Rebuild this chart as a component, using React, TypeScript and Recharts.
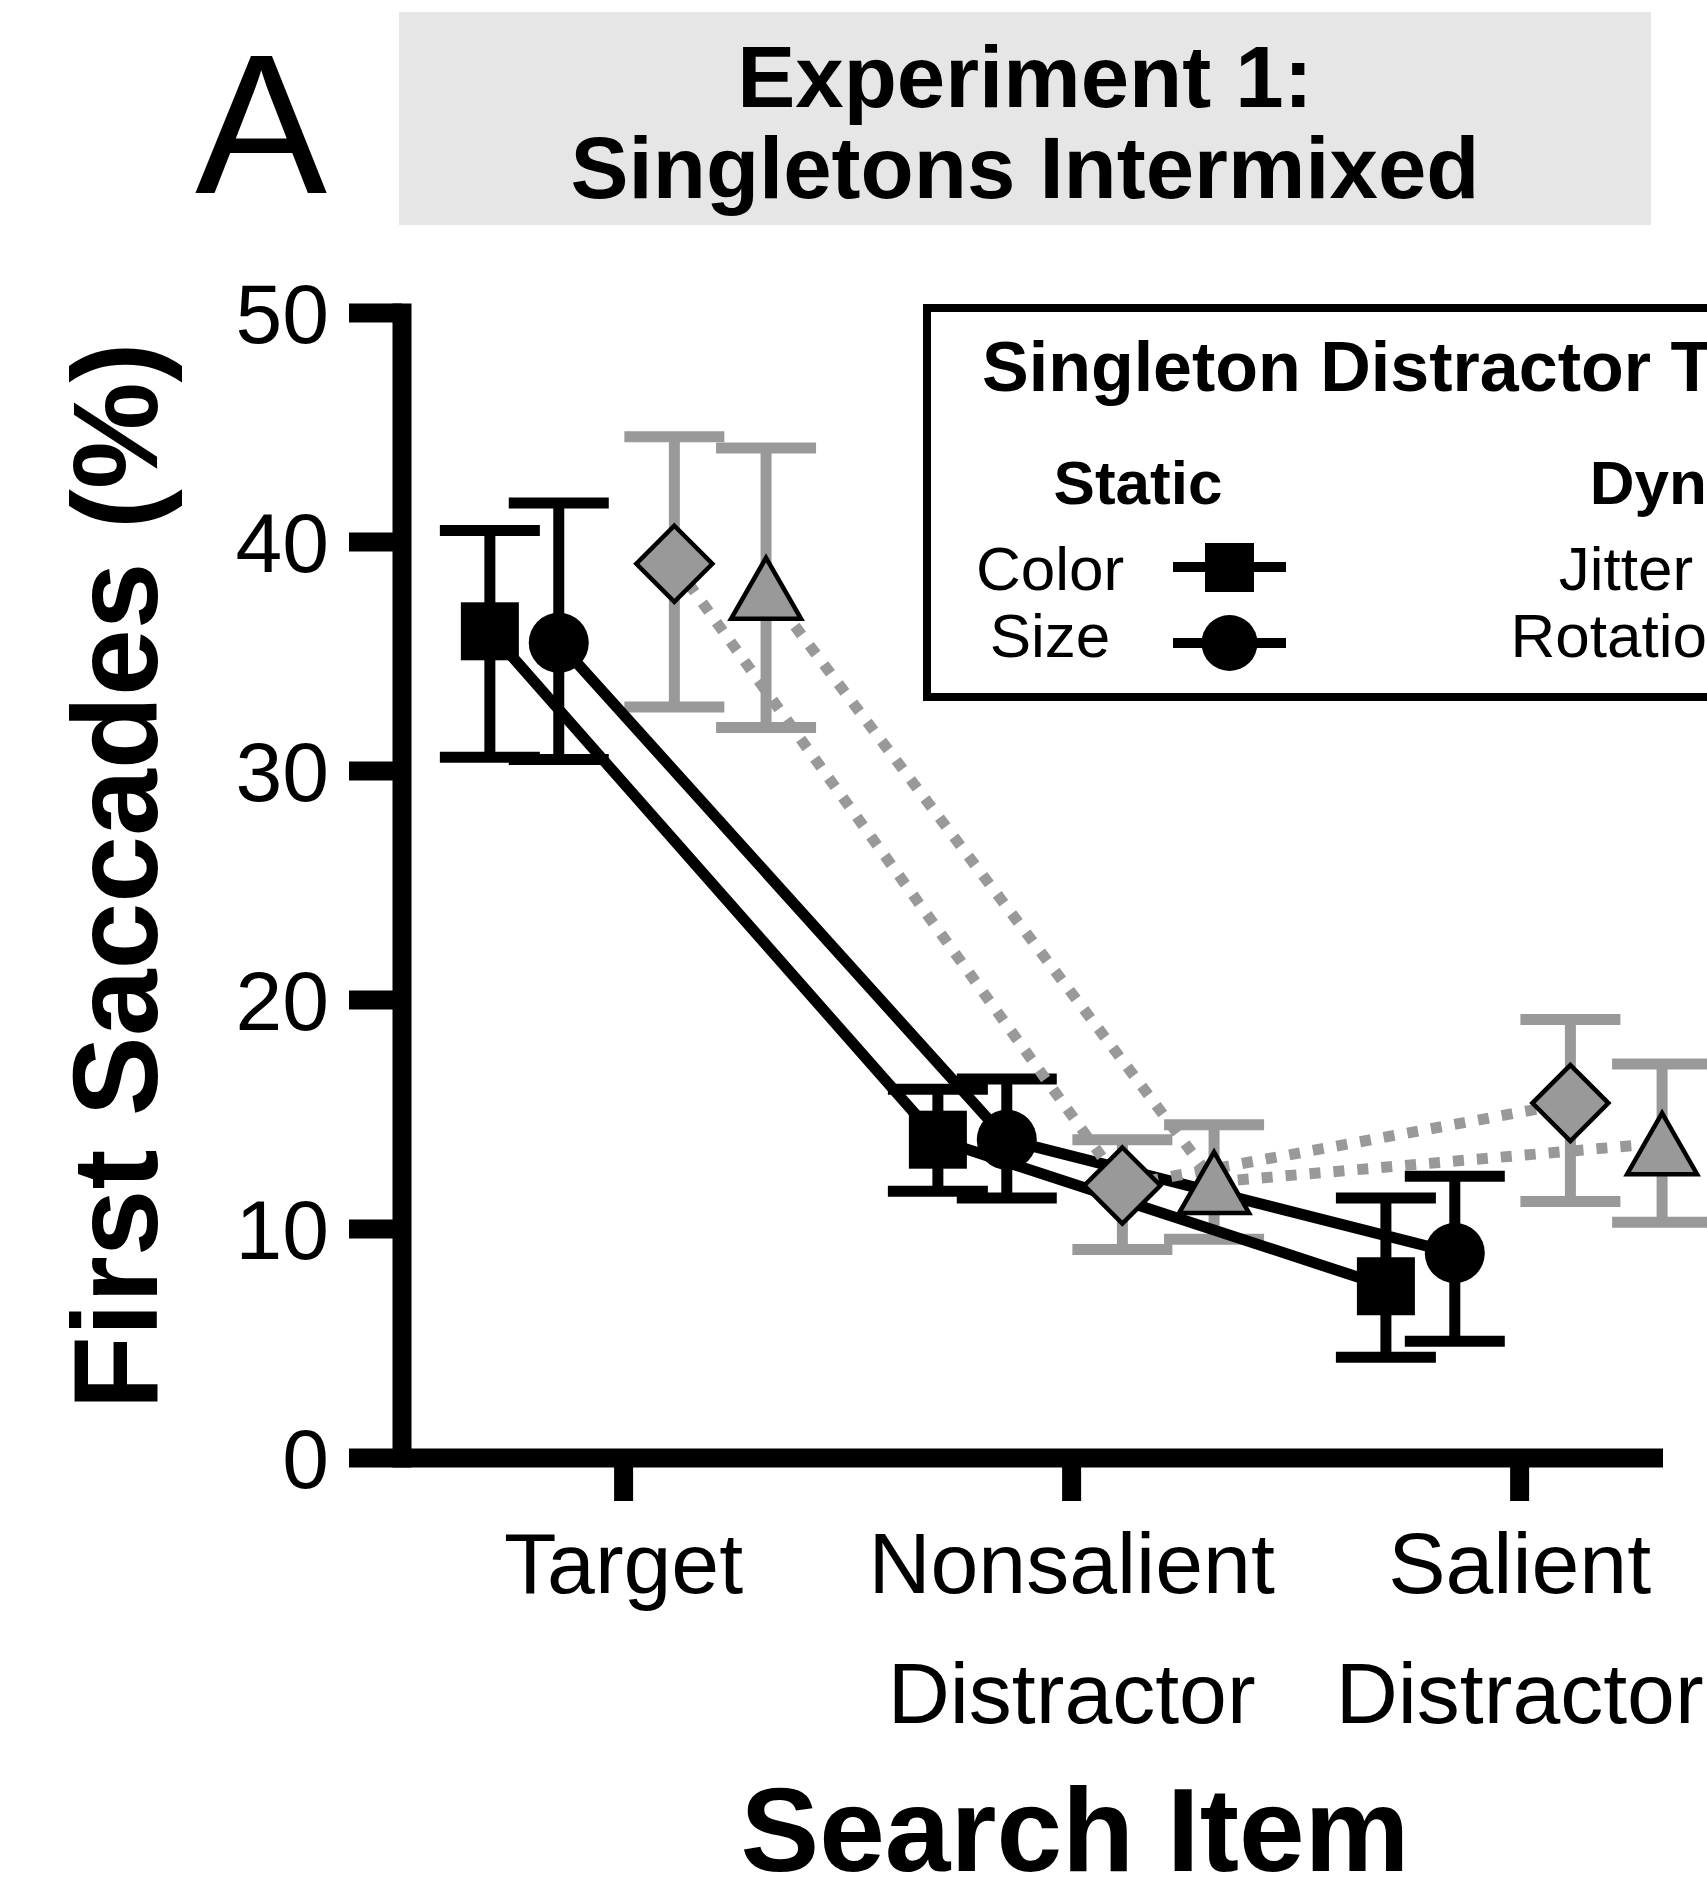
import React from 'react';
import { ScatterChart, Scatter, XAxis, YAxis, ErrorBar } from 'recharts';

// ---------- data ----------
const categories = ['Target', 'Nonsalient Distractor', 'Salient Distractor'];
const categoryLines = [['Target'], ['Nonsalient', 'Distractor'], ['Salient', 'Distractor']];
const categoryTicks = [1, 2, 3];
const yTicks = [0, 10, 20, 30, 40, 50];

// Static: Color (square)
const colorMean = [36.1, 13.9, 7.5];
const colorLow = [30.6, 11.65, 4.4];
const colorHigh = [40.5, 16.1, 11.35];
// Static: Size (circle)
const sizeMean = [35.6, 13.9, 8.95];
const sizeLow = [30.5, 11.35, 5.1];
const sizeHigh = [41.7, 16.55, 12.3];
// Dynamic: Jitter (diamond)
const jitterMean = [39.05, 11.9, 15.5];
const jitterLow = [32.8, 9.1, 11.2];
const jitterHigh = [44.6, 13.9, 19.15];
// Dynamic: Rotation (triangle)
const rotationMean = [38.0, 12.05, 13.75];
const rotationLow = [31.9, 9.55, 10.3];
const rotationHigh = [44.1, 14.55, 17.2];

// horizontal dodge of each series around its category (in category units)
const colorOffset = -0.2985;
const sizeOffset = -0.1447;
const jitterOffset = 0.1133;
const rotationOffset = 0.318;

function build(mean: number[], low: number[], high: number[], offset: number) {
  return mean.map((m, i) => ({
    x: categoryTicks[i] + offset,
    y: m,
    err: [m - low[i], high[i] - m],
    cat: categories[i],
  }));
}

const colorData = build(colorMean, colorLow, colorHigh, colorOffset);
const sizeData = build(sizeMean, sizeLow, sizeHigh, sizeOffset);
const jitterData = build(jitterMean, jitterLow, jitterHigh, jitterOffset);
const rotationData = build(rotationMean, rotationLow, rotationHigh, rotationOffset);

// ---------- style ----------
const FONT = '"Liberation Sans", Arial, Helvetica, sans-serif';
const GRAY = '#999999';
const W = 1707;
const H = 1896;

const SquareShape = (p: any) => (
  <rect x={p.cx - 29} y={p.cy - 29} width={58} height={58} fill="#000" />
);
const CircleShape = (p: any) => <circle cx={p.cx} cy={p.cy} r={30} fill="#000" />;
const DiamondShape = (p: any) => (
  <polygon
    points={`${p.cx},${p.cy - 38} ${p.cx + 38},${p.cy} ${p.cx},${p.cy + 38} ${p.cx - 38},${p.cy}`}
    fill={GRAY}
    stroke="#000"
    strokeWidth={4.5}
  />
);
const TriangleShape = (p: any) => (
  <polygon
    points={`${p.cx},${p.cy - 30} ${p.cx + 35},${p.cy + 31} ${p.cx - 35},${p.cy + 31}`}
    fill={GRAY}
    stroke="#000"
    strokeWidth={4.5}
  />
);
const NoShape = () => <g />;

const XTick = (props: any) => {
  const { x, y, payload } = props;
  const idx = categoryTicks.indexOf(payload.value);
  const lines = categoryLines[idx] || [];
  return (
    <g>
      {lines.map((t, i) => (
        <text
          key={i}
          x={x}
          y={y + 92 + i * 130}
          textAnchor="middle"
          fontFamily={FONT}
          fontSize={86}
          fill="#000"
        >
          {t}
        </text>
      ))}
    </g>
  );
};

export default function App() {
  return (
    <div
      style={{
        position: 'absolute',
        left: 0,
        top: 0,
        width: W,
        height: H,
        overflow: 'hidden',
        background: '#fff',
      }}
    >
      <ScatterChart width={W} height={H} margin={{ top: 313, right: 44, bottom: 0, left: 0 }}>
        <XAxis
          dataKey="x"
          type="number"
          domain={[0.5054, 3.32]}
          ticks={categoryTicks}
          height={438}
          tickSize={43}
          tickMargin={0}
          axisLine={{ stroke: '#000', strokeWidth: 19 }}
          tickLine={{ stroke: '#000', strokeWidth: 19 }}
          tick={<XTick />}
          interval={0}
        />
        <YAxis
          dataKey="y"
          type="number"
          domain={[0, 50]}
          ticks={yTicks}
          width={402}
          tickSize={53}
          tickMargin={20}
          axisLine={{ stroke: '#000', strokeWidth: 19, strokeLinecap: 'square' }}
          tickLine={{ stroke: '#000', strokeWidth: 19 }}
          tick={{ fill: '#000', fontSize: 84, fontFamily: FONT }}
          interval={0}
        />
        {/* grey error bars drawn beneath the black series */}
        <Scatter data={jitterData} shape={NoShape} isAnimationActive={false}>
          <ErrorBar dataKey="err" direction="y" width={50} strokeWidth={11} stroke={GRAY} />
        </Scatter>
        <Scatter data={rotationData} shape={NoShape} isAnimationActive={false}>
          <ErrorBar dataKey="err" direction="y" width={50} strokeWidth={11} stroke={GRAY} />
        </Scatter>
        {/* static singletons */}
        <Scatter
          data={colorData}
          shape={SquareShape}
          line={{ stroke: '#000', strokeWidth: 11 }}
          isAnimationActive={false}
        >
          <ErrorBar dataKey="err" direction="y" width={50} strokeWidth={11} stroke="#000" />
        </Scatter>
        <Scatter
          data={sizeData}
          shape={CircleShape}
          line={{ stroke: '#000', strokeWidth: 11 }}
          isAnimationActive={false}
        >
          <ErrorBar dataKey="err" direction="y" width={50} strokeWidth={11} stroke="#000" />
        </Scatter>
        {/* dynamic singletons */}
        <Scatter
          data={jitterData}
          shape={DiamondShape}
          line={{ stroke: GRAY, strokeWidth: 11, strokeDasharray: '11 13' }}
          isAnimationActive={false}
        />
        <Scatter
          data={rotationData}
          shape={TriangleShape}
          line={{ stroke: GRAY, strokeWidth: 11, strokeDasharray: '11 13' }}
          isAnimationActive={false}
        />
      </ScatterChart>

      <svg
        width={W}
        height={H}
        style={{ position: 'absolute', left: 0, top: 0, pointerEvents: 'none' }}
      >
        {/* panel letter and title */}
        <text x={261} y={193} textAnchor="middle" fontFamily={FONT} fontSize={198} fill="#000">
          A
        </text>
        <rect x={399} y={12} width={1252} height={213} fill="#e6e6e6" />
        <text x={1025} y={107} textAnchor="middle" fontFamily={FONT} fontWeight="bold" fontSize={87} fill="#000">
          Experiment 1:
        </text>
        <text x={1025} y={198} textAnchor="middle" fontFamily={FONT} fontWeight="bold" fontSize={87} fill="#000">
          Singletons Intermixed
        </text>

        {/* axis titles */}
        <text
          transform="translate(157,876) rotate(-90)"
          textAnchor="middle"
          fontFamily={FONT}
          fontWeight="bold"
          fontSize={120}
          fill="#000"
        >
          First Saccades (%)
        </text>
        <text x={1075} y={1871} textAnchor="middle" fontFamily={FONT} fontWeight="bold" fontSize={118} fill="#000">
          Search Item
        </text>

        {/* legend */}
        <rect x={927} y={308} width={1000} height={389} fill="#fff" stroke="#000" strokeWidth={8} />
        <text x={982} y={391} fontFamily={FONT} fontWeight="bold" fontSize={70} fill="#000">
          Singleton Distractor Type
        </text>
        <text x={1138} y={504} textAnchor="middle" fontFamily={FONT} fontWeight="bold" fontSize={62} fill="#000">
          Static
        </text>
        <text x={1719} y={504} textAnchor="middle" fontFamily={FONT} fontWeight="bold" fontSize={62} fill="#000">
          Dynamic
        </text>
        <text x={1050} y={590} textAnchor="middle" fontFamily={FONT} fontSize={62} fill="#000">
          Color
        </text>
        <text x={1050} y={657} textAnchor="middle" fontFamily={FONT} fontSize={62} fill="#000">
          Size
        </text>
        <text x={1626} y={590} textAnchor="middle" fontFamily={FONT} fontSize={62} fill="#000">
          Jitter
        </text>
        <text x={1626} y={657} textAnchor="middle" fontFamily={FONT} fontSize={62} fill="#000">
          Rotation
        </text>
        <line x1={1173} x2={1286} y1={567} y2={567} stroke="#000" strokeWidth={10} />
        <rect x={1205} y={543} width={49} height={49} fill="#000" />
        <line x1={1173} x2={1286} y1={643} y2={643} stroke="#000" strokeWidth={10} />
        <circle cx={1229.5} cy={643} r={28} fill="#000" />
        <line x1={1749} x2={1862} y1={567} y2={567} stroke={GRAY} strokeWidth={10} />
        <polygon points="1805,533 1839,567 1805,601 1771,567" fill={GRAY} stroke="#000" strokeWidth={4} />
        <line x1={1749} x2={1862} y1={643} y2={643} stroke={GRAY} strokeWidth={10} />
        <polygon points="1805,615 1836,670 1774,670" fill={GRAY} stroke="#000" strokeWidth={4} />
      </svg>
    </div>
  );
}
